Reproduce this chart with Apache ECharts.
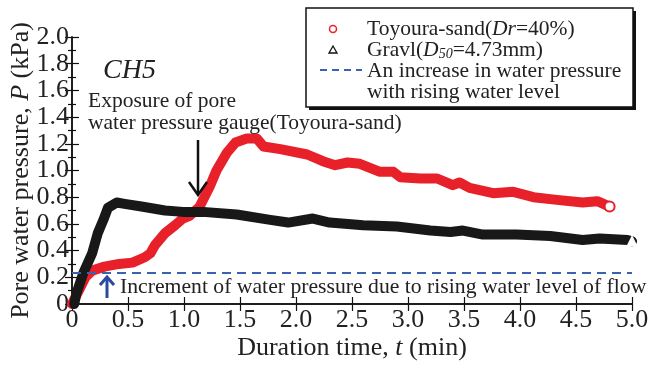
<!DOCTYPE html>
<html><head><meta charset="utf-8">
<script src="https://cdn.jsdelivr.net/npm/echarts@6/dist/echarts.min.js"></script>
<style>html,body{margin:0;padding:0;background:#fff}#c{width:649px;height:368px}</style>
</head><body><div id="c"></div>
<script>
// ---- data ----
var toyouraT = [0.00,0.06,0.12,0.18,0.29,0.42,0.54,0.65,0.70,0.74,0.83,0.92,0.99,1.05,1.14,1.23,1.29,1.38,1.46,1.56,1.65,1.71,1.86,2.10,2.24,2.35,2.46,2.57,2.75,2.87,2.93,3.11,3.26,3.40,3.46,3.55,3.76,3.94,4.12,4.33,4.56,4.69,4.80];
var toyouraP = [0.00,0.10,0.20,0.25,0.28,0.30,0.31,0.35,0.38,0.44,0.53,0.59,0.64,0.66,0.73,0.88,1.00,1.13,1.21,1.24,1.24,1.18,1.16,1.12,1.07,1.04,1.06,1.05,0.99,0.99,0.95,0.94,0.94,0.89,0.91,0.87,0.83,0.84,0.80,0.78,0.76,0.77,0.73];
var gravelT = [0.02,0.04,0.10,0.18,0.23,0.28,0.32,0.40,0.47,0.62,0.83,0.99,1.17,1.47,1.77,1.93,2.15,2.30,2.60,2.90,3.20,3.38,3.49,3.67,3.97,4.27,4.56,4.71,4.96,5.00];
var gravelP = [0.00,0.08,0.23,0.38,0.53,0.63,0.72,0.76,0.75,0.73,0.70,0.69,0.69,0.67,0.63,0.61,0.64,0.61,0.59,0.58,0.55,0.54,0.55,0.52,0.52,0.51,0.48,0.49,0.48,0.47];
var risingLevelT = [0, 5];
var risingLevelP = [0.232, 0.232];
var xTicks = {min: 0, max: 5, step: 0.5};
var yTicks = {min: 0, max: 2, step: 0.2};

function zip(a, b) { return a.map(function (v, i) { return [v, b[i]]; }); }
var FONT = '"Liberation Serif","Times New Roman",serif';
var fmt = function (v) { return v === 0 ? '0' : v.toFixed(1); };

var toyData = zip(toyouraT, toyouraP);
var gravData = zip(gravelT, gravelP);
var lastToy = toyData[toyData.length - 1];
var lastGrav = gravData[gravData.length - 1];

var chart = echarts.init(document.getElementById('c'), null, {renderer: 'canvas'});
var axisLine = {show: true, lineStyle: {color: '#111', width: 1.5}};
var titleRich = {a: {fontFamily: FONT, fontSize: 26, color: '#222'}, i: {fontFamily: FONT, fontSize: 26, fontStyle: 'italic', color: '#222'}};
var option = {
  animation: false,
  backgroundColor: '#fff',
  grid: {left: 72, right: 17, top: 37, bottom: 64, containLabel: false, outerBoundsMode: 'none'},
  xAxis: [{
    type: 'value', min: xTicks.min, max: xTicks.max, interval: xTicks.step,
    axisLine: axisLine, splitLine: {show: false},
    axisTick: {inside: true, length: 7, lineStyle: {color: '#111', width: 1.2}},
    axisLabel: {formatter: fmt, fontFamily: FONT, fontSize: 26, color: '#222', margin: 3},
    name: '{a|Duration time, }{i|t}{a| (min)}', nameLocation: 'middle', nameGap: 31, nameMoveOverlap: false,
    nameTextStyle: {rich: titleRich}
  }, {
    type: 'value', position: 'top', min: xTicks.min, max: xTicks.max, interval: xTicks.step,
    axisLine: axisLine, splitLine: {show: false},
    axisTick: {inside: true, length: 7, lineStyle: {color: '#111', width: 1.2}},
    axisLabel: {show: false}
  }],
  yAxis: [{
    type: 'value', min: yTicks.min, max: yTicks.max, interval: yTicks.step,
    axisLine: axisLine, splitLine: {show: false},
    axisTick: {inside: true, length: 7, lineStyle: {color: '#111', width: 1.2}},
    minorTick: {show: true, splitNumber: 2, length: 4, lineStyle: {color: '#111', width: 1.2}},
    axisLabel: {formatter: fmt, fontFamily: FONT, fontSize: 26, color: '#222', margin: 3},
    name: '{a|Pore water pressure, }{i|P}{a| (kPa)}', nameLocation: 'middle', nameGap: 38, nameRotate: 90, nameMoveOverlap: false,
    nameTextStyle: {rich: titleRich}
  }, {
    type: 'value', position: 'right', min: yTicks.min, max: yTicks.max, interval: yTicks.step,
    axisLine: axisLine, splitLine: {show: false},
    axisTick: {inside: true, length: 7, lineStyle: {color: '#111', width: 1.2}},
    minorTick: {show: true, splitNumber: 2, length: 4, lineStyle: {color: '#111', width: 1.2}},
    axisLabel: {show: false}
  }],
  series: [{
    name: 'Toyoura', type: 'line', data: toyData, z: 3,
    symbol: 'none', lineStyle: {color: '#e8202a', width: 10, join: 'round', cap: 'round'},
    markPoint: {symbol: 'circle', symbolSize: 10, itemStyle: {color: '#fff', borderColor: '#e8202a', borderWidth: 2},
      label: {show: false}, data: [{coord: lastToy}]}
  }, {
    name: 'Gravl', type: 'line', data: gravData, z: 4,
    symbol: 'none', lineStyle: {color: '#181818', width: 10, join: 'round', cap: 'round'},
    markPoint: {symbol: 'emptyTriangle', symbolSize: 8, itemStyle: {color: '#fff', borderColor: '#111', borderWidth: 1.2},
      label: {show: false}, data: [{coord: lastGrav}]}
  }, {
    name: 'rising', type: 'line', data: zip(risingLevelT, risingLevelP), z: 5,
    symbol: 'none', lineStyle: {color: '#3a62b0', width: 2, type: [9, 6]}
  }],
  graphic: [
    // annotations
    {type: 'text', left: 103, top: 57, z: 10, style: {text: 'CH5', font: 'italic 28px ' + FONT, fill: '#222'}},
    {type: 'text', left: 88, top: 90, z: 10, style: {text: 'Exposure of pore\nwater pressure gauge(Toyoura-sand)', font: '21.5px ' + FONT, fill: '#222', lineHeight: 22}},
    {type: 'line', z: 10, shape: {x1: 198, y1: 140, x2: 198, y2: 194}, style: {stroke: '#111', lineWidth: 2.5}},
    {type: 'polyline', z: 10, shape: {points: [[189, 182], [198, 195], [207, 182]]}, style: {stroke: '#111', lineWidth: 2.5, fill: null}},
    {type: 'line', z: 10, shape: {x1: 107, y1: 298, x2: 107, y2: 278}, style: {stroke: '#2a4aa0', lineWidth: 3}},
    {type: 'polyline', z: 10, shape: {points: [[100, 285], [107, 277], [114, 285]]}, style: {stroke: '#2a4aa0', lineWidth: 3, fill: null}},
    {type: 'text', left: 120, top: 276, z: 10, style: {text: 'Increment of water pressure due to rising water level of flow', font: '21.7px ' + FONT, fill: '#222'}},
    // legend box
    {type: 'rect', z: 20, shape: {x: 309, y: 11, width: 327, height: 99}, style: {fill: '#111'}},
    {type: 'rect', z: 21, shape: {x: 306, y: 8, width: 327, height: 99}, style: {fill: '#fff', stroke: '#111', lineWidth: 1.5}},
    {type: 'circle', z: 22, shape: {cx: 333, cy: 29, r: 3.5}, style: {fill: '#fff', stroke: '#e8202a', lineWidth: 1.5}},
    {type: 'polygon', z: 22, shape: {points: [[329, 53], [333, 46], [337, 53]]}, style: {fill: '#fff', stroke: '#111', lineWidth: 1.3}},
    {type: 'line', z: 22, shape: {x1: 320, y1: 70, x2: 362, y2: 70}, style: {stroke: '#3a62b0', lineWidth: 2, lineDash: [7, 5]}},
    {type: 'text', z: 22, left: 367, top: 18, style: {
      text: '{a|Toyoura-sand(}{i|Dr}{a|=40%)}\n{a|Gravl(}{i|D}{s|50}{a|=4.73mm)}\n{a|An increase in water pressure}\n{a|with rising water level}',
      rich: {
        a: {font: '21.5px ' + FONT, fill: '#222', lineHeight: 21},
        i: {font: 'italic 21.5px ' + FONT, fill: '#222', lineHeight: 21},
        s: {font: 'italic 14px ' + FONT, fill: '#222', lineHeight: 21, padding: [8, 0, 0, 0]}
      }}}
  ]
};
chart.setOption(option);
</script></body></html>
